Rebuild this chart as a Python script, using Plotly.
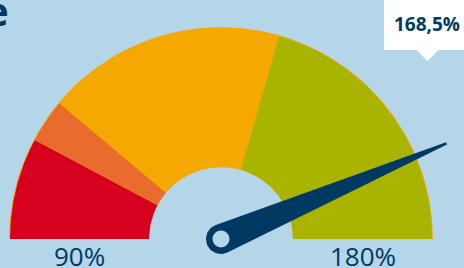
import numpy as np
import plotly.graph_objects as go

# ---- data ----
scale_min, scale_max = 90, 180
band_edges = [90, 104, 110, 143, 180]
band_names = ["Band 1", "Band 2", "Band 3", "Band 4"]
needle_value = 168.5
end_labels = ["90%", "180%"]
title_text = "e"

# ---- style ----
BG = "#b4d6e8"
DARK = "#003a63"
band_colors = ["#d6001f", "#e96b2d", "#f5a800", "#a9b400"]
W, H = 464, 268
CX, CY, RPX = 221, 239, 211          # gauge centre / radius in pixels
HOLE = 72 / 211                     # inner radius (relative)
FONT = "Open Sans"


def ang(v):
    return np.pi * (1 - (v - scale_min) / (scale_max - scale_min))


def wedge(v0, v1, r0, r1, n=120):
    t = np.linspace(ang(v0), ang(v1), n)
    xs = np.concatenate([r1 * np.cos(t), r0 * np.cos(t[::-1])])
    ys = np.concatenate([r1 * np.sin(t), r0 * np.sin(t[::-1])])
    return np.append(xs, xs[0]), np.append(ys, ys[0])


fig = go.Figure()

# thin yellow rim underneath
xs, ys = wedge(scale_min, scale_max, HOLE, 1.004)
fig.add_trace(go.Scatter(x=xs, y=ys, fill="toself", mode="lines",
                         line=dict(width=0), fillcolor=band_colors[2],
                         hoverinfo="skip", showlegend=False))

for i, name in enumerate(band_names):
    xs, ys = wedge(band_edges[i], band_edges[i + 1], HOLE, 1.0)
    fig.add_trace(go.Scatter(x=xs, y=ys, fill="toself", mode="lines",
                             line=dict(width=0), fillcolor=band_colors[i],
                             name=name, hoverinfo="name", showlegend=False))

# needle
a = ang(needle_value)
d = np.array([np.cos(a), np.sin(a)])
nrm = np.array([-np.sin(a), np.cos(a)])
rc = 15 / RPX
L = 245 / RPX
tw = 1.2 / RPX
back = np.linspace(a + np.pi / 2, a + 3 * np.pi / 2, 40)
px = list(rc * np.cos(back)) + [(-nrm * tw + d * L)[0], (nrm * tw + d * L)[0]]
py = list(rc * np.sin(back)) + [(-nrm * tw + d * L)[1], (nrm * tw + d * L)[1]]
px.append(px[0]); py.append(py[0])
fig.add_trace(go.Scatter(x=px, y=py, fill="toself", mode="lines",
                         line=dict(width=0, color=DARK), fillcolor=DARK,
                         hoverinfo="skip", showlegend=False))
fig.add_trace(go.Scatter(x=[0], y=[0], mode="markers",
                         marker=dict(size=17, color=BG, line=dict(width=0)),
                         hoverinfo="skip", showlegend=False))

# end labels
mid_r = (1 + HOLE) / 2
for lbl, v in zip(end_labels, [scale_min, scale_max]):
    fig.add_annotation(x=mid_r * np.cos(ang(v)), y=-17 / RPX, text=lbl,
                       showarrow=False, xanchor="center", yanchor="middle",
                       font=dict(family=FONT, size=26, color=DARK))

# callout
def pxx(x):
    return x / W


def pxy(y):
    return 1 - y / H


fig.add_shape(type="rect", xref="paper", yref="paper",
              x0=pxx(384), x1=pxx(470), y0=pxy(50), y1=pxy(-5),
              fillcolor="white", line=dict(width=0), layer="above")
fig.add_shape(type="path", xref="paper", yref="paper",
              path=f"M {pxx(416)} {pxy(49.5)} L {pxx(439)} {pxy(49.5)} L {pxx(427.5)} {pxy(61)} Z",
              fillcolor="white", line=dict(width=0), layer="above")
fig.add_annotation(xref="paper", yref="paper", x=pxx(427), y=pxy(24),
                   text=f"{needle_value:.1f}".replace(".", ",") + "%",
                   showarrow=False, xanchor="center", yanchor="middle",
                   font=dict(family=FONT, size=19, color=DARK, weight="bold"))

# cropped title
fig.add_annotation(xref="paper", yref="paper", x=pxx(11), y=pxy(11),
                   text=title_text, showarrow=False, xanchor="right",
                   yanchor="middle",
                   font=dict(family=FONT, size=40, color=DARK, weight="bold"))

fig.update_layout(
    width=W, height=H,
    margin=dict(l=0, r=0, t=0, b=0),
    paper_bgcolor=BG, plot_bgcolor=BG,
    xaxis=dict(range=[-CX / RPX, (W - CX) / RPX], visible=False, fixedrange=True),
    yaxis=dict(range=[-(H - CY) / RPX, CY / RPX], visible=False, fixedrange=True),
    showlegend=False,
)

fig.write_html(
    "out.html",
    config={"displayModeBar": False},
    post_script="document.body.style.margin='0';document.body.style.overflow='hidden';",
)
